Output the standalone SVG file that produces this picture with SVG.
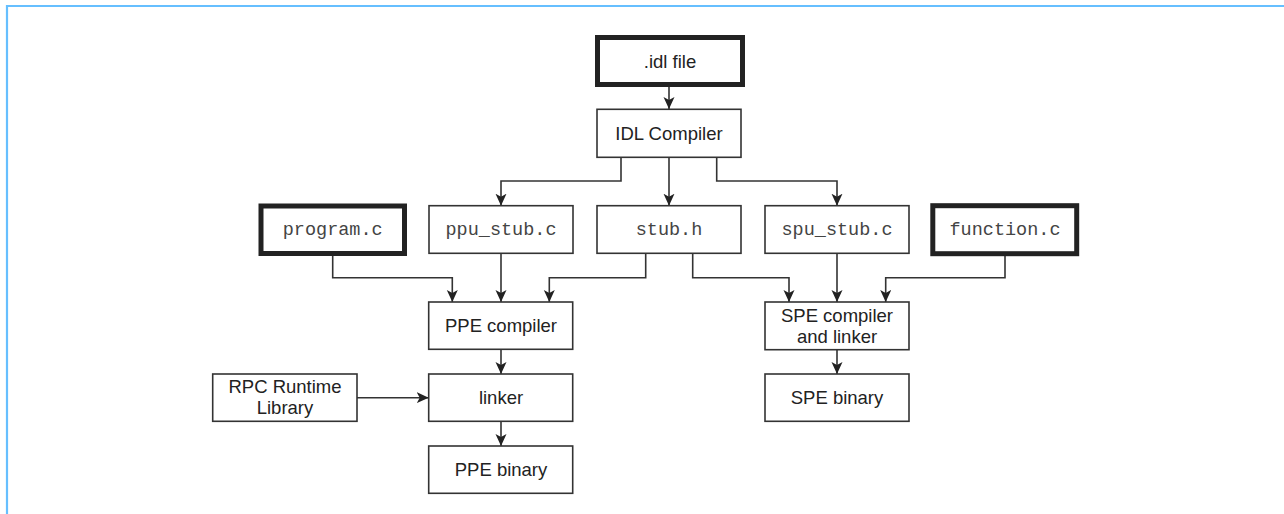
<svg xmlns="http://www.w3.org/2000/svg" width="1284" height="514" viewBox="0 0 1284 514">
<style>
.box{fill:#fff;stroke:#333;stroke-width:1.6}
.thick{fill:#fff;stroke:#222;stroke-width:5}
.t{font-family:"Liberation Sans",Arial,sans-serif;font-size:18.5px;fill:#222;text-anchor:middle}
.m{font-family:"Liberation Mono","Courier New",monospace;font-size:18.5px;fill:#444;text-anchor:middle}
.c{fill:none;stroke:#333;stroke-width:1.6;marker-end:url(#ah)}
</style>
<defs>
<marker id="ah" markerUnits="userSpaceOnUse" markerWidth="12" markerHeight="12" refX="12" refY="5.5" orient="auto">
<path d="M0,0 L12,5.5 L0,11 L3,5.5 z" fill="#222"/>
</marker>
</defs>
<rect width="1284" height="514" fill="#fff"/>
<path d="M7,514 V6 H1284" fill="none" stroke="#66bfff" stroke-width="2.2"/>
<g id="connectors">
<path class="c" d="M669,87 V109"/>
<path class="c" d="M621,157 V181 H501 V205.7"/>
<path class="c" d="M669,157 V205.7"/>
<path class="c" d="M716.7,157 V181 H837 V205.7"/>
<path class="c" d="M332.7,256 V277.7 H452.3 V302"/>
<path class="c" d="M501,253.3 V302"/>
<path class="c" d="M645.7,253.3 V277.7 H549.3 V302"/>
<path class="c" d="M692.7,253.3 V277.7 H789 V302"/>
<path class="c" d="M837,253.3 V302"/>
<path class="c" d="M1005,256 V277.7 H885.7 V302"/>
<path class="c" d="M501,349.3 V374"/>
<path class="c" d="M357,397.7 H428.7"/>
<path class="c" d="M501,421.3 V446"/>
<path class="c" d="M837,349.7 V374"/>
</g>
<g id="idl-file"><rect class="thick" x="597.5" y="37.5" width="145" height="47"/><text class="t" x="670" y="67.5">.idl file</text></g>
<g id="idl-compiler"><rect class="box" x="597" y="109.3" width="144" height="48"/><text class="t" x="669" y="140">IDL Compiler</text></g>
<g id="program-c"><rect class="thick" x="261" y="206" width="143.5" height="47.5"/><text class="m" x="332.7" y="234.5">program.c</text></g>
<g id="ppu-stub-c"><rect class="box" x="429" y="205.7" width="144" height="47.6"/><text class="m" x="501" y="234.5">ppu_stub.c</text></g>
<g id="stub-h"><rect class="box" x="597" y="205.7" width="144" height="47.6"/><text class="m" x="669" y="234.5">stub.h</text></g>
<g id="spu-stub-c"><rect class="box" x="765" y="205.7" width="144" height="47.6"/><text class="m" x="837" y="234.5">spu_stub.c</text></g>
<g id="function-c"><rect class="thick" x="932.8" y="205.7" width="143.9" height="48"/><text class="m" x="1005" y="234.5">function.c</text></g>
<g id="ppe-compiler"><rect class="box" x="428.7" y="302" width="144" height="47.3"/><text class="t" x="501" y="332.3">PPE compiler</text></g>
<g id="linker"><rect class="box" x="428.7" y="374" width="144" height="47.3"/><text class="t" x="501" y="404.3">linker</text></g>
<g id="ppe-binary"><rect class="box" x="428.7" y="446" width="144" height="47.3"/><text class="t" x="501" y="476.3">PPE binary</text></g>
<g id="rpc-runtime-library"><rect class="box" x="212.7" y="374" width="144.3" height="47.3"/><text class="t" x="285" y="392.7">RPC Runtime</text><text class="t" x="285" y="414.3">Library</text></g>
<g id="spe-compiler"><rect class="box" x="765" y="302" width="144" height="47.7"/><text class="t" x="837" y="321.7">SPE compiler</text><text class="t" x="837" y="343.3">and linker</text></g>
<g id="spe-binary"><rect class="box" x="765" y="374" width="144" height="47.3"/><text class="t" x="837" y="404.3">SPE binary</text></g>
</svg>
